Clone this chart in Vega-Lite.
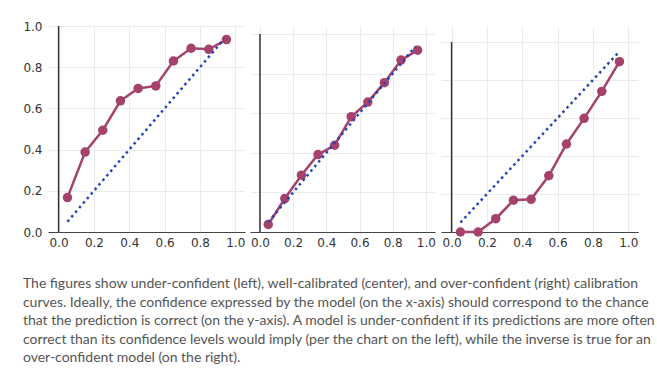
{
  "$schema": "https://vega.github.io/schema/vega-lite/v6.json",
  "background": "white",
  "padding": {"left": 22, "top": 20, "right": 5, "bottom": 2},
  "spacing": 5,
  "datasets": {
    "cal": [
      {"panel": "under", "confidence": 0.05, "accuracy": 0.167},
      {"panel": "under", "confidence": 0.15, "accuracy": 0.388},
      {"panel": "under", "confidence": 0.25, "accuracy": 0.494},
      {"panel": "under", "confidence": 0.35, "accuracy": 0.637},
      {"panel": "under", "confidence": 0.45, "accuracy": 0.697},
      {"panel": "under", "confidence": 0.55, "accuracy": 0.709},
      {"panel": "under", "confidence": 0.65, "accuracy": 0.830},
      {"panel": "under", "confidence": 0.75, "accuracy": 0.892},
      {"panel": "under", "confidence": 0.85, "accuracy": 0.887},
      {"panel": "under", "confidence": 0.95, "accuracy": 0.934},
      {"panel": "well", "confidence": 0.05, "accuracy": 0.038},
      {"panel": "well", "confidence": 0.15, "accuracy": 0.169},
      {"panel": "well", "confidence": 0.25, "accuracy": 0.287},
      {"panel": "well", "confidence": 0.35, "accuracy": 0.391},
      {"panel": "well", "confidence": 0.45, "accuracy": 0.438},
      {"panel": "well", "confidence": 0.55, "accuracy": 0.582},
      {"panel": "well", "confidence": 0.65, "accuracy": 0.656},
      {"panel": "well", "confidence": 0.75, "accuracy": 0.754},
      {"panel": "well", "confidence": 0.85, "accuracy": 0.868},
      {"panel": "well", "confidence": 0.95, "accuracy": 0.918},
      {"panel": "over", "confidence": 0.05, "accuracy": 0.0},
      {"panel": "over", "confidence": 0.15, "accuracy": 0.0},
      {"panel": "over", "confidence": 0.25, "accuracy": 0.070},
      {"panel": "over", "confidence": 0.35, "accuracy": 0.167},
      {"panel": "over", "confidence": 0.45, "accuracy": 0.172},
      {"panel": "over", "confidence": 0.55, "accuracy": 0.296},
      {"panel": "over", "confidence": 0.65, "accuracy": 0.463},
      {"panel": "over", "confidence": 0.75, "accuracy": 0.598},
      {"panel": "over", "confidence": 0.85, "accuracy": 0.740},
      {"panel": "over", "confidence": 0.95, "accuracy": 0.896}
    ]
  },
  "title": {
    "text": [
      "The figures show under-confident (left), well-calibrated (center), and over-confident (right) calibration",
      "curves. Ideally, the confidence expressed by the model (on the x-axis) should correspond to the chance",
      "that the prediction is correct (on the y-axis). A model is under-confident if its predictions are more often",
      "correct than its confidence levels would imply (per the chart on the left), while the inverse is true for an",
      "over-confident model (on the right)."
    ],
    "orient": "bottom",
    "anchor": "start",
    "font": "Lato",
    "fontSize": 14,
    "fontWeight": "normal",
    "color": "#555555",
    "lineHeight": 18.5,
    "offset": 29
  },
  "config": {
    "view": {"stroke": null},
    "axis": {
      "labelFont": "DejaVu Sans",
      "labelFontSize": 12,
      "labelColor": "#333333",
      "gridColor": "#ebebeb",
      "gridWidth": 1,
      "ticks": false,
      "title": null,
      "values": [0, 0.2, 0.4, 0.6, 0.8, 1],
      "format": ".1f"
    },
    "axisX": {"domainColor": "#444444", "domainWidth": 1.2, "labelPadding": 5},
    "axisY": {"domain": false, "labelPadding": 6}
  },
  "hconcat": [
    {
      "width": 197,
      "height": 206,
      "layer": [
        {
          "data": {"values": [{}]},
          "mark": {"type": "rule", "color": "#333333", "strokeWidth": 1.5},
          "encoding": {"x": {"datum": 0}, "y": {"datum": 0}, "y2": {"datum": 1}}
        },
        {
          "data": {"name": "cal"},
          "transform": [{"filter": "datum.panel == 'under'"}],
          "mark": {"type": "line", "color": "#a4426b", "strokeWidth": 2.5, "point": {"filled": true, "size": 90, "color": "#a4426b", "opacity": 1}},
          "encoding": {
            "x": {"field": "confidence", "type": "quantitative", "scale": {"domain": [-0.06, 1.055], "nice": false, "zero": false}, "axis": {"grid": true}},
            "y": {"field": "accuracy", "type": "quantitative", "scale": {"domain": [0, 1], "nice": false}, "axis": {"grid": true, "labels": true}}
          }
        },
        {
          "data": {"values": [{}]},
          "mark": {"type": "rule", "color": "#2443b5", "strokeWidth": 2.5, "strokeDash": [2.5, 3.5]},
          "encoding": {"x": {"datum": 0.05}, "y": {"datum": 0.05}, "x2": {"datum": 0.935}, "y2": {"datum": 0.935}}
        }
      ]
    },
    {
      "width": 185,
      "height": 206,
      "layer": [
        {
          "data": {"values": [{}]},
          "mark": {"type": "rule", "color": "#333333", "strokeWidth": 1.5},
          "encoding": {"x": {"datum": 0}, "y": {"datum": 0}, "y2": {"datum": 1}}
        },
        {
          "data": {"name": "cal"},
          "transform": [{"filter": "datum.panel == 'well'"}],
          "mark": {"type": "line", "color": "#a4426b", "strokeWidth": 2.5, "point": {"filled": true, "size": 90, "color": "#a4426b", "opacity": 1}},
          "encoding": {
            "x": {"field": "confidence", "type": "quantitative", "scale": {"domain": [-0.06, 1.055], "nice": false, "zero": false}, "axis": {"grid": true}},
            "y": {"field": "accuracy", "type": "quantitative", "scale": {"domain": [0, 1.04], "nice": false}, "axis": {"grid": true, "labels": false}}
          }
        },
        {
          "data": {"values": [{}]},
          "mark": {"type": "rule", "color": "#2443b5", "strokeWidth": 2.5, "strokeDash": [2.5, 3.5]},
          "encoding": {"x": {"datum": 0.05}, "y": {"datum": 0.05}, "x2": {"datum": 0.935}, "y2": {"datum": 0.935}}
        }
      ]
    },
    {
      "width": 197,
      "height": 206,
      "layer": [
        {
          "data": {"values": [{}]},
          "mark": {"type": "rule", "color": "#333333", "strokeWidth": 1.5},
          "encoding": {"x": {"datum": 0}, "y": {"datum": 0}, "y2": {"datum": 1}}
        },
        {
          "data": {"name": "cal"},
          "transform": [{"filter": "datum.panel == 'over'"}],
          "mark": {"type": "line", "color": "#a4426b", "strokeWidth": 2.5, "point": {"filled": true, "size": 90, "color": "#a4426b", "opacity": 1}},
          "encoding": {
            "x": {"field": "confidence", "type": "quantitative", "scale": {"domain": [-0.06, 1.055], "nice": false, "zero": false}, "axis": {"grid": true}},
            "y": {"field": "accuracy", "type": "quantitative", "scale": {"domain": [0, 1.084], "nice": false}, "axis": {"grid": true, "labels": false}}
          }
        },
        {
          "data": {"values": [{}]},
          "mark": {"type": "rule", "color": "#2443b5", "strokeWidth": 2.5, "strokeDash": [2.5, 3.5]},
          "encoding": {"x": {"datum": 0.05}, "y": {"datum": 0.05}, "x2": {"datum": 0.94}, "y2": {"datum": 0.94}}
        }
      ]
    }
  ]
}
